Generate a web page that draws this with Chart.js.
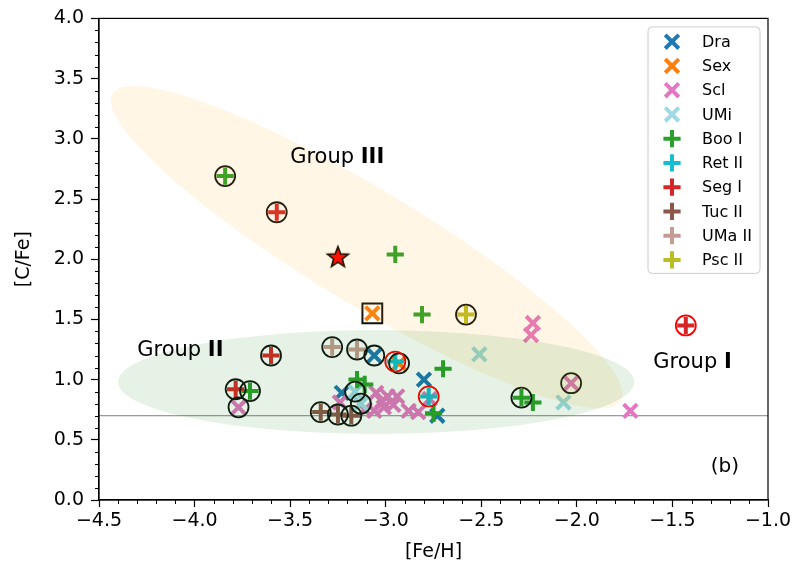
<!DOCTYPE html>
<html><head><meta charset="utf-8">
<script src="https://cdn.jsdelivr.net/npm/chart.js@4.4.1/dist/chart.umd.min.js"></script>
<style>html,body{margin:0;padding:0;background:#fff}#wrap{width:802px;height:568px}</style>
</head><body><div id="wrap"><canvas id="c" width="802" height="568"></canvas></div>
<script>
// ---- data ([Fe/H], [C/Fe]); ring: 0 none, 1 black circle, 2 red circle ----
const galaxyNames = ['Dra','Sex','Scl','UMi','Boo I','Ret II','Seg I','Tuc II','UMa II','Psc II'];
const galaxyColors = ['#1f77b4','#ff7f0e','#e377c2','#9edae5','#2ca02c','#17becf','#d62728','#8c564b','#c49c94','#bcbd22'];
const galaxyMarkers = ['crossRot','crossRot','crossRot','crossRot','cross','cross','cross','cross','cross','cross'];

const draFe = [-3.23, -3.06, -2.80, -2.73];
const draC  = [0.89, 1.20, 1.00, 0.70];
const draRing = [0, 1, 0, 0];

const sexFe = [-3.07, -2.93];
const sexC  = [1.55, 1.135];
const sexRing = [0, 1];

const sclFe = [-3.77, -3.24, -3.11, -3.05, -3.02, -3.06, -2.99, -2.94, -2.96, -3.01, -2.88, -2.83, -2.77, -2.23, -2.24, -2.03, -1.72];
const sclC  = [0.77, 0.81, 0.75, 0.89, 0.82, 0.74, 0.86, 0.86, 0.79, 0.77, 0.74, 0.73, 0.84, 1.47, 1.37, 0.97, 0.74];
const sclRing = [1, 0, 0, 0, 0, 0, 0, 0, 0, 0, 0, 0, 0, 0, 0, 1, 0];

const umiFe = [-3.16, -3.13, -2.51, -2.07];
const umiC  = [0.90, 0.80, 1.21, 0.81];
const umiRing = [1, 1, 0, 0];

const booFe = [-3.84, -2.95, -2.81, -2.70, -3.15, -3.11, -3.71, -2.29, -2.23, -2.75];
const booC  = [2.69, 2.04, 1.54, 1.09, 1.00, 0.96, 0.905, 0.85, 0.81, 0.72];
const booRing = [1, 0, 0, 0, 0, 0, 1, 1, 0, 0];

const retFe = [-2.95, -2.775];
const retC  = [1.15, 0.86];
const retRing = [2, 2];

const segFe = [-3.57, -3.60, -3.785, -1.43];
const segC  = [2.39, 1.20, 0.92, 1.45];
const segRing = [1, 1, 1, 2];

const tucFe = [-3.34, -3.25, -3.18];
const tucC  = [0.73, 0.71, 0.70];
const tucRing = [1, 1, 1];

const umaFe = [-3.28, -3.15];
const umaC  = [1.27, 1.25];
const umaRing = [1, 1];

const pscFe = [-2.58];
const pscC  = [1.54];
const pscRing = [1];

const starFe = [-3.25];
const starC  = [2.02];
const boxFe = [-3.07];
const boxC  = [1.55];

const refLineC = 0.70;

const groupLabels = ['Group ', 'Group ', 'Group ', ''];
const groupNumerals = ['III', 'II', 'I', ''];
const groupFe = [-3.50, -4.30, -1.60, -1.30];
const groupC  = [2.80, 1.20, 1.094, 0.23];
const panelLabel = '(b)';

const ellCx = [-3.1, -3.05];
const ellCy = [2.1, 0.98];
const ellW  = [3.7, 2.7];
const ellH  = [0.8, 0.86];
const ellAng = [-45, 0];
const ellColor = ['rgba(255,165,0,0.1)', 'rgba(0,128,0,0.1)'];

const xTickMin = -4.5, xTickMax = -1.0, yTickMin = 0, yTickMax = 4.0, tickStep = 0.5, minorStep = 0.1;

// ---- build datasets ----
const feArr = [draFe, sexFe, sclFe, umiFe, booFe, retFe, segFe, tucFe, umaFe, pscFe];
const cArr  = [draC, sexC, sclC, umiC, booC, retC, segC, tucC, umaC, pscC];
const ringArr = [draRing, sexRing, sclRing, umiRing, booRing, retRing, segRing, tucRing, umaRing, pscRing];

const FONT = '"DejaVu Sans", sans-serif';
const datasets = [];
const blackRing = [], redRing = [];
galaxyNames.forEach((name, g) => {
  const pts = feArr[g].map((x, i) => ({x, y: cArr[g][i]}));
  feArr[g].forEach((x, i) => {
    if (ringArr[g][i] === 1) blackRing.push({x, y: cArr[g][i]});
    if (ringArr[g][i] === 2) redRing.push({x, y: cArr[g][i]});
  });
  const isX = galaxyMarkers[g] === 'crossRot';
  datasets.push({
    label: name, data: pts, inLegend: true,
    pointStyle: galaxyMarkers[g], pointRadius: isX ? 9.6 : 8.6,
    borderColor: galaxyColors[g], backgroundColor: galaxyColors[g],
    pointBorderWidth: 4, order: 100 - g
  });
});

// star marker image
const starCanvas = document.createElement('canvas');
starCanvas.width = 26; starCanvas.height = 26;
(function(){
  const c = starCanvas.getContext('2d');
  const cx = 13, cy = 13.8, R = 11, r = 4.6;
  c.beginPath();
  for (let k = 0; k < 10; k++) {
    const a = -Math.PI/2 + k*Math.PI/5;
    const rr = k % 2 ? r : R;
    const px = cx + rr*Math.cos(a), py = cy + rr*Math.sin(a);
    k ? c.lineTo(px, py) : c.moveTo(px, py);
  }
  c.closePath();
  c.fillStyle = '#ff0000'; c.fill();
  c.lineWidth = 1.6; c.strokeStyle = '#000'; c.lineJoin = 'miter'; c.stroke();
})();

datasets.push({label: '', data: blackRing, pointStyle: 'circle', pointRadius: 10,
  pointBorderWidth: 1.8, borderColor: '#111', backgroundColor: 'rgba(0,0,0,0)', order: 5});
datasets.push({label: '', data: redRing, pointStyle: 'circle', pointRadius: 10,
  pointBorderWidth: 1.8, borderColor: '#ff0000', backgroundColor: 'rgba(0,0,0,0)', order: 4});
datasets.push({label: '', data: starFe.map((x,i)=>({x, y: starC[i]})), pointStyle: starCanvas,
  pointRadius: 11, order: 3});
datasets.push({label: '', data: boxFe.map((x,i)=>({x, y: boxC[i]})), pointStyle: 'rect', pointRadius: 14,
  pointBorderWidth: 2, borderColor: '#111', backgroundColor: 'rgba(0,0,0,0)', order: 2});

const fmt = v => (Math.round(v*10)/10).toFixed(1).replace('-', '\u2212');

// ---- plugins ----
const decor = {
  id: 'decor',
  beforeDatasetsDraw(chart) {
    const {ctx, chartArea: a, scales: {x, y}} = chart;
    ctx.save();
    const py = y.getPixelForValue(refLineC);
    ctx.strokeStyle = '#808080'; ctx.lineWidth = 1;
    ctx.beginPath(); ctx.moveTo(a.left, py); ctx.lineTo(a.right, py); ctx.stroke();
    ctx.restore();
  },
  afterDatasetsDraw(chart) {
    const {ctx, chartArea: a, scales: {x, y}} = chart;
    ctx.save();
    ctx.beginPath(); ctx.rect(a.left, a.top, a.right - a.left, a.bottom - a.top); ctx.clip();
    for (let e = 0; e < ellCx.length; e++) {
      const t = ellAng[e]*Math.PI/180, c = Math.cos(t), s = Math.sin(t);
      ctx.beginPath();
      for (let k = 0; k <= 360; k++) {
        const p = k*Math.PI/180;
        const dx = ellW[e]/2*Math.cos(p), dy = ellH[e]/2*Math.sin(p);
        const X = ellCx[e] + dx*c - dy*s, Y = ellCy[e] + dx*s + dy*c;
        const px = x.getPixelForValue(X), py = y.getPixelForValue(Y);
        k ? ctx.lineTo(px, py) : ctx.moveTo(px, py);
      }
      ctx.closePath(); ctx.fillStyle = ellColor[e]; ctx.fill();
    }
    ctx.restore();
    // group labels
    ctx.save();
    ctx.fillStyle = '#000'; ctx.textBaseline = 'alphabetic'; ctx.textAlign = 'left';
    for (let i = 0; i < groupFe.length; i++) {
      const px = x.getPixelForValue(groupFe[i]), py = y.getPixelForValue(groupC[i]);
      if (groupLabels[i] || groupNumerals[i]) {
        ctx.font = '21px ' + FONT;
        ctx.fillText(groupLabels[i], px, py);
        const w = ctx.measureText(groupLabels[i]).width;
        ctx.font = 'bold 21px ' + FONT;
        ctx.fillText(groupNumerals[i], px + w, py);
      } else {
        ctx.font = '20px ' + FONT;
        ctx.fillText(panelLabel, px, py);
      }
    }
    ctx.restore();
  },
  afterDraw(chart) {
    const {ctx, chartArea: a, scales: {x, y}} = chart;
    ctx.save();
    // frame
    ctx.strokeStyle = '#000'; ctx.lineWidth = 1.2;
    ctx.strokeRect(a.left, a.top, a.right - a.left, a.bottom - a.top);
    // minor ticks
    ctx.lineWidth = 1;
    ctx.beginPath();
    for (let v = xTickMin; v <= xTickMax + 1e-9; v += minorStep) {
      const r = Math.round(v*10)/10;
      if (Math.abs(r/tickStep - Math.round(r/tickStep)) < 1e-6) continue;
      const px = Math.round(x.getPixelForValue(r)) + 0.5;
      ctx.moveTo(px, a.bottom); ctx.lineTo(px, a.bottom + 4);
    }
    for (let v = yTickMin; v <= yTickMax + 1e-9; v += minorStep) {
      const r = Math.round(v*10)/10;
      if (Math.abs(r/tickStep - Math.round(r/tickStep)) < 1e-6) continue;
      const py = Math.round(y.getPixelForValue(r)) + 0.5;
      ctx.moveTo(a.left, py); ctx.lineTo(a.left - 4, py);
    }
    ctx.stroke();
    // legend
    const items = chart.data.datasets.filter(d => d.inLegend);
    const bx = a.right - 120, by = a.top + 8.5, bw = 112, rowH = 24.25;
    const bh = items.length*rowH + 4;
    ctx.beginPath();
    if (ctx.roundRect) ctx.roundRect(bx, by, bw, bh, 4); else ctx.rect(bx, by, bw, bh);
    ctx.fillStyle = 'rgba(255,255,255,0.85)'; ctx.fill();
    ctx.strokeStyle = '#cccccc'; ctx.lineWidth = 1; ctx.stroke();
    items.forEach((d, i) => {
      const cy = by + 14.8 + i*rowH, cx = bx + 24;
      ctx.strokeStyle = d.borderColor; ctx.lineWidth = 4; ctx.lineCap = 'butt';
      ctx.beginPath();
      if (d.pointStyle === 'crossRot') {
        const o = d.pointRadius*Math.SQRT1_2;
        ctx.moveTo(cx - o, cy - o); ctx.lineTo(cx + o, cy + o);
        ctx.moveTo(cx + o, cy - o); ctx.lineTo(cx - o, cy + o);
      } else {
        const o = d.pointRadius;
        ctx.moveTo(cx - o, cy); ctx.lineTo(cx + o, cy);
        ctx.moveTo(cx, cy - o); ctx.lineTo(cx, cy + o);
      }
      ctx.stroke();
      ctx.fillStyle = '#000'; ctx.font = '16px ' + FONT;
      ctx.textBaseline = 'middle'; ctx.textAlign = 'left';
      ctx.fillText(d.label, bx + 54, cy + 1);
    });
    ctx.restore();
  }
};

new Chart(document.getElementById('c'), {
  type: 'scatter',
  data: {datasets},
  options: {
    responsive: false, animation: false, devicePixelRatio: 1, events: [],
    layout: {padding: {top: 13, right: 34, left: 0, bottom: 0}},
    plugins: {legend: {display: false}, tooltip: {enabled: false}},
    scales: {
      x: {
        type: 'linear', min: xTickMin, max: xTickMax,
        afterFit: s => { s.height = 68; },
        border: {display: true, color: '#000', width: 1.2},
        grid: {display: true, drawOnChartArea: false, drawTicks: true, tickLength: 7, color: '#000', tickWidth: 1.2},
        ticks: {stepSize: tickStep, padding: 3, color: '#000', font: {family: FONT, size: 19}, maxRotation: 0,
          callback: v => fmt(v)},
        title: {display: true, text: '[Fe/H]', color: '#000', font: {family: FONT, size: 19}, padding: {top: 0, bottom: 5}}
      },
      y: {
        type: 'linear', min: yTickMin, max: yTickMax,
        afterFit: s => { s.width = 99; },
        border: {display: true, color: '#000', width: 1.2},
        grid: {display: true, drawOnChartArea: false, drawTicks: true, tickLength: 8, color: '#000', tickWidth: 1.2},
        ticks: {stepSize: tickStep, padding: 7, color: '#000', font: {family: FONT, size: 19},
          callback: v => fmt(v)},
        title: {display: true, text: '[C/Fe]', color: '#000', font: {family: FONT, size: 19}, padding: {top: 13, bottom: 0}}
      }
    }
  },
  plugins: [decor]
});
</script></body></html>
